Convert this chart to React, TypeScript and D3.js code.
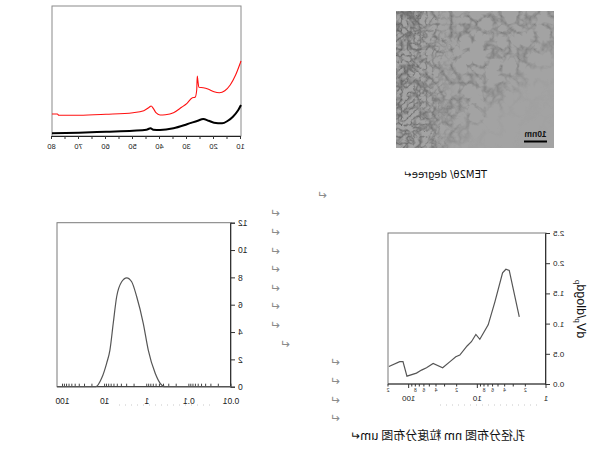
import * as d3 from "d3";
import { useEffect, useRef } from "react";

// XRD (2θ in degrees, arbitrary intensity)
const redAngles = [10, 12, 14, 16, 18, 20, 22, 24, 25.6, 26.0, 26.2, 26.4, 27, 28, 30, 32, 35, 38, 40, 41.5, 42.5, 43.3, 44, 46, 50, 60, 70, 77.5, 78, 80];
const redCounts = [75, 61, 51, 45.3, 43.3, 44.3, 46.7, 48.3, 48.7, 56, 60, 46, 38.7, 38.3, 32.7, 28.7, 23.3, 21.3, 21, 23.3, 27.7, 30, 28.7, 25.3, 23.3, 21.7, 20.7, 20.7, 22, 22];
const blackAngles = [10, 11, 13, 15, 17, 20, 22, 24, 26, 30, 35, 40, 42.5, 43.5, 45, 50, 60, 70, 80];
const blackCounts = [31, 26, 19.3, 15, 12.7, 13.3, 15.3, 17, 15.3, 11.7, 7.7, 6, 6.3, 7.7, 6.3, 5.3, 4.3, 3.3, 2.7];
const xrdTicks = [10, 20, 30, 40, 50, 60, 70, 80];

// pore size distribution (nm, dV/dlogD)
const poreDiam = [2.45, 3.43, 3.84, 4.29, 5.55, 6.95, 9.2, 10.5, 12.2, 14.1, 18, 20.6, 25, 32, 44, 55, 65, 77, 106, 121, 135, 194];
const poreVol = [1.11, 1.88, 1.9, 1.84, 1.36, 0.98, 0.74, 0.82, 0.7, 0.63, 0.48, 0.45, 0.37, 0.27, 0.34, 0.27, 0.23, 0.18, 0.13, 0.37, 0.37, 0.29];
const poreYTicks = [0, 0.5, 1.0, 1.5, 2.0, 2.5];

// particle size distribution (um, %)
const partDiam = [0.01, 0.37, 0.48, 0.63, 0.92, 1.21, 1.73, 2.28, 2.99, 3.94, 5.18, 6.24, 7.48, 8.96, 11.8, 16.1, 135];
const partVol = [0, 0, 0.25, 0.98, 2.68, 4.64, 6.58, 7.68, 7.97, 7.68, 6.58, 4.64, 2.68, 1.71, 0.61, 0, 0];
const partYTicks = [0, 2, 4, 6, 8, 10, 12];

const temCaption = "TEM2θ/ degree↵";
const bottomCaption = "孔径分布图 nm 粒度分布图 um↵";

const W = 601;
const H = 470;
const sans = "'Liberation Sans', Arial, sans-serif";

// paragraph marks scattered in the page (unmirrored coords)
const marks: [number, number][] = [
  [279, 195], [326, 213], [326, 232], [326, 251], [326, 269], [326, 288], [326, 306], [326, 325],
  [316, 344], [266, 362], [266, 381], [266, 400], [266, 418],
];

const App = () => {
  const ref = useRef<SVGSVGElement | null>(null);

  useEffect(() => {
    const svg = d3.select(ref.current);
    svg.selectAll("*").remove();

    const defs = svg.append("defs");
    // where the TEM texture shows (strong at the dense edge, fading to plain film)
    const grad = defs.append("linearGradient").attr("id", "temMask")
      .attr("x1", 0.1).attr("y1", 0.95).attr("x2", 0.8).attr("y2", 0.3);
    grad.append("stop").attr("offset", "0").attr("stop-color", "#fff").attr("stop-opacity", 0);
    grad.append("stop").attr("offset", "0.3").attr("stop-color", "#fff").attr("stop-opacity", 0.1);
    grad.append("stop").attr("offset", "0.5").attr("stop-color", "#fff").attr("stop-opacity", 0.75);
    grad.append("stop").attr("offset", "1").attr("stop-color", "#fff").attr("stop-opacity", 1);
    const grad2 = defs.append("linearGradient").attr("id", "temDense").attr("x1", 0).attr("x2", 1).attr("y1", 0).attr("y2", 0);
    grad2.append("stop").attr("offset", "0.62").attr("stop-color", "#fff").attr("stop-opacity", 0);
    grad2.append("stop").attr("offset", "0.85").attr("stop-color", "#fff").attr("stop-opacity", 0.8);
    grad2.append("stop").attr("offset", "1").attr("stop-color", "#fff").attr("stop-opacity", 1);

    const f = defs.append("filter").attr("id", "temTex").attr("x", 0).attr("y", 0).attr("width", 1).attr("height", 1);
    f.append("feTurbulence").attr("type", "turbulence").attr("baseFrequency", 0.06).attr("numOctaves", 3).attr("seed", 7).attr("result", "n");
    f.append("feColorMatrix").attr("in", "n").attr("type", "matrix")
      .attr("values", "0 0 0 0 0.18  0 0 0 0 0.18  0 0 0 0 0.18  -3.2 0 0 0 0.95").attr("result", "dark");
    f.append("feComposite").attr("in", "dark").attr("in2", "SourceGraphic").attr("operator", "in");

    const f2 = defs.append("filter").attr("id", "temFine").attr("x", 0).attr("y", 0).attr("width", 1).attr("height", 1);
    f2.append("feTurbulence").attr("type", "turbulence").attr("baseFrequency", 0.16).attr("numOctaves", 2).attr("seed", 3).attr("result", "n");
    f2.append("feColorMatrix").attr("in", "n").attr("type", "matrix")
      .attr("values", "0 0 0 0 0.12  0 0 0 0 0.12  0 0 0 0 0.12  -2.6 0 0 0 0.9").attr("result", "dark");
    f2.append("feComposite").attr("in", "dark").attr("in2", "SourceGraphic").attr("operator", "in");

    // whole page is mirrored horizontally
    const g = svg.append("g").attr("transform", `translate(${W},0) scale(-1,1)`);

    // ---------- XRD ----------
    const xr = d3.scaleLinear().domain([10, 80]).range([360, 549]);
    const yr = d3.scaleLinear().domain([0, 130]).range([136, 6]);
    g.append("rect").attr("x", 360).attr("y", 6).attr("width", 189).attr("height", 130)
      .attr("fill", "none").attr("stroke", "#8a8a8a").attr("stroke-width", 1);
    g.append("g").attr("transform", "translate(0,136)")
      .call(d3.axisBottom(xr).tickValues(d3.range(10, 81, 5)).tickSize(3).tickFormat((d) => (xrdTicks.includes(+d) ? String(d) : "")))
      .call((a) => a.select(".domain").attr("stroke", "#222"))
      .call((a) => a.selectAll("line").attr("stroke", "#333"))
      .call((a) => a.selectAll("text").attr("font-size", 7.5).attr("font-family", sans).attr("fill", "#222").attr("dy", "0.9em"));
    const redPts = redAngles.map((a, i) => [a, redCounts[i]] as [number, number]);
    const blackPts = blackAngles.map((a, i) => [a, blackCounts[i]] as [number, number]);
    const xrdLine = d3.line<[number, number]>().x((d) => xr(d[0])).y((d) => yr(d[1])).curve(d3.curveMonotoneX);
    g.append("path").attr("d", xrdLine(blackPts)).attr("fill", "none").attr("stroke", "#000").attr("stroke-width", 2);
    g.append("path").attr("d", xrdLine(redPts)).attr("fill", "none").attr("stroke", "#ff1010").attr("stroke-width", 1.1);

    // ---------- TEM picture ----------
    g.append("rect").attr("x", 47).attr("y", 11).attr("width", 158).attr("height", 137).attr("fill", "#a3a3a3");
    g.append("rect").attr("x", 47).attr("y", 11).attr("width", 158).attr("height", 137)
      .attr("fill", "url(#temMask)").attr("filter", "url(#temTex)");
    g.append("rect").attr("x", 47).attr("y", 11).attr("width", 158).attr("height", 137)
      .attr("fill", "url(#temDense)").attr("filter", "url(#temFine)");
    g.append("line").attr("x1", 54).attr("x2", 77).attr("y1", 141.5).attr("y2", 141.5).attr("stroke", "#000").attr("stroke-width", 2);
    g.append("text").attr("x", 65.5).attr("y", 136.5).attr("text-anchor", "middle").attr("font-size", 8.5)
      .attr("font-weight", "bold").attr("font-family", sans).attr("fill", "#111").text("10nm");
    g.append("text").attr("x", 114).attr("y", 178).attr("font-size", 10).attr("font-family", "'DejaVu Sans', sans-serif")
      .attr("fill", "#111").text(temCaption);

    // ---------- pore size ----------
    const xp = d3.scaleLog().domain([1, 200]).range([55, 213]);
    const yp = d3.scaleLinear().domain([0, 2.5]).range([384, 233]);
    g.append("rect").attr("x", 55).attr("y", 233).attr("width", 158).attr("height", 151)
      .attr("fill", "none").attr("stroke", "#7a7a7a").attr("stroke-width", 1);
    const pTicks = xp.ticks();
    const px = g.append("g").attr("transform", "translate(0,384)");
    px.append("line").attr("x1", 55).attr("x2", 213).attr("stroke", "#333");
    px.selectAll("line.t").data(pTicks).enter().append("line").attr("class", "t")
      .attr("x1", (d) => xp(d)).attr("x2", (d) => xp(d)).attr("y1", 0)
      .attr("y2", (d) => (Math.log10(d) % 1 === 0 ? 4 : 2.5)).attr("stroke", "#333");
    px.selectAll("text.minor").data(pTicks.filter((d) => {
      const k = d / Math.pow(10, Math.floor(Math.log10(d) + 1e-9));
      return [2, 4, 6, 8].includes(Math.round(k));
    })).enter().append("text").attr("class", "minor")
      .attr("x", (d) => xp(d)).attr("y", 8).attr("text-anchor", "middle").attr("font-size", 5)
      .attr("font-family", sans).attr("fill", "#333")
      .text((d) => String(Math.round(d / Math.pow(10, Math.floor(Math.log10(d) + 1e-9)))));
    px.selectAll("text.major").data([1, 10, 100]).enter().append("text").attr("class", "major")
      .attr("x", (d) => xp(d)).attr("y", 17).attr("text-anchor", "middle").attr("font-size", 8)
      .attr("font-family", sans).attr("fill", "#222").text((d) => String(d));
    g.append("line").attr("x1", 64).attr("x2", 161).attr("y1", 405).attr("y2", 405)
      .attr("stroke", "#c8c8c8").attr("stroke-dasharray", "1,5");
    g.append("g").attr("transform", "translate(55,0)")
      .call(d3.axisLeft(yp).tickValues(poreYTicks).tickSize(4).tickFormat(d3.format(".1f")))
      .call((a) => a.select(".domain").attr("stroke", "#333"))
      .call((a) => a.selectAll("line").attr("stroke", "#333"))
      .call((a) => a.selectAll("text").attr("font-size", 8).attr("font-family", sans).attr("fill", "#222"));
    const yl = g.append("text").attr("transform", "translate(24,309) rotate(-90)").attr("text-anchor", "middle")
      .attr("font-size", 12.5).attr("font-family", sans).attr("fill", "#111");
    yl.append("tspan").text("dV");
    yl.append("tspan").attr("font-size", 8).attr("dy", 2.5).text("p");
    yl.append("tspan").attr("dy", -2.5).text("/dlogd");
    yl.append("tspan").attr("font-size", 8).attr("dy", 2.5).text("p");
    const poreLine = d3.line<number>().x((d) => xp(d)).y((_, i) => yp(poreVol[i]));
    g.append("path").attr("d", poreLine(poreDiam)).attr("fill", "none").attr("stroke", "#555").attr("stroke-width", 1.2);

    // ---------- particle size ----------
    const xs = d3.scaleLog().domain([0.01, 135]).range([370, 544]);
    const ys = d3.scaleLinear().domain([0, 12]).range([386.7, 222.7]);
    g.append("rect").attr("x", 370).attr("y", 222.7).attr("width", 174).attr("height", 164)
      .attr("fill", "none").attr("stroke", "#7a7a7a").attr("stroke-width", 1);
    const sTicks = xs.ticks();
    const sx = g.append("g").attr("transform", "translate(0,386.7)");
    sx.append("line").attr("x1", 370).attr("x2", 544).attr("stroke", "#333");
    sx.selectAll("line.t").data(sTicks).enter().append("line").attr("class", "t")
      .attr("x1", (d) => xs(d)).attr("x2", (d) => xs(d)).attr("y1", 0).attr("y2", -3).attr("stroke", "#444");
    sx.selectAll("text").data([0.01, 0.1, 1, 10, 100]).enter().append("text")
      .attr("x", (d) => xs(d)).attr("y", 17).attr("text-anchor", "middle").attr("font-size", 8.5)
      .attr("font-family", sans).attr("fill", "#222").text((d) => String(d));
    g.append("line").attr("x1", 391).attr("x2", 484).attr("y1", 405).attr("y2", 405)
      .attr("stroke", "#c8c8c8").attr("stroke-dasharray", "1,5");
    g.append("g").attr("transform", "translate(370,0)")
      .call(d3.axisLeft(ys).tickValues(partYTicks).tickSize(4))
      .call((a) => a.select(".domain").attr("stroke", "#333"))
      .call((a) => a.selectAll("line").attr("stroke", "#333"))
      .call((a) => a.selectAll("text").attr("font-size", 8.5).attr("font-family", sans).attr("fill", "#222"));
    const partLine = d3.line<number>().x((d) => xs(d)).y((_, i) => ys(partVol[i])).curve(d3.curveMonotoneX);
    g.append("path").attr("d", partLine(partDiam)).attr("fill", "none").attr("stroke", "#555").attr("stroke-width", 1.2);

    // ---------- captions and paragraph marks ----------
    g.append("text").attr("x", 76).attr("y", 440).attr("font-size", 12)
      .attr("font-family", "'Noto Sans CJK SC', sans-serif").attr("fill", "#111").text(bottomCaption);
    g.selectAll("text.mark").data(marks).enter().append("text").attr("class", "mark")
      .attr("x", (d) => d[0]).attr("y", (d) => d[1] + 4).attr("text-anchor", "middle")
      .attr("font-size", 12).attr("font-family", "'DejaVu Sans', sans-serif").attr("fill", "#8a8a8a").text("↵");
  }, []);

  return (
    <svg ref={ref} width={W} height={H}
      style={{ position: "absolute", left: 0, top: 0, background: "#fff" }} />
  );
};

export default App;
